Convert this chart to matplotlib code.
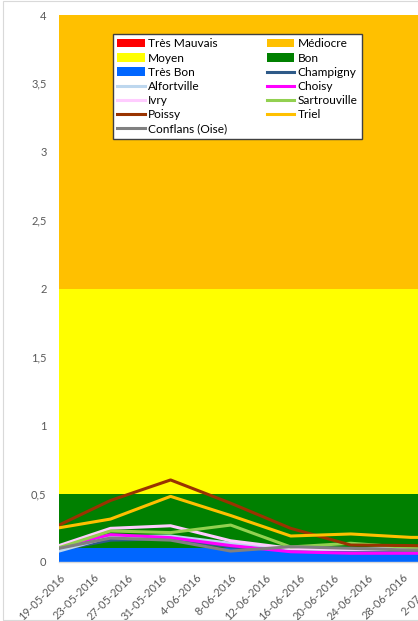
import pandas as pd
import matplotlib.pyplot as plt
from matplotlib.lines import Line2D
from matplotlib.patches import Patch, Rectangle
from matplotlib.ticker import FuncFormatter

plt.rcParams['font.family'] = ['Lato', 'DejaVu Sans']

# measurement dates (weekly)
dates = pd.to_datetime(['19-05-2016', '25-05-2016', '01-06-2016', '08-06-2016',
                        '15-06-2016', '22-06-2016', '29-06-2016', '06-07-2016'],
                       dayfirst=True)

# quality bands, stacked from the bottom
band_names = ['Très Bon', 'Bon', 'Moyen', 'Médiocre', 'Très Mauvais']
band_heights = [0.1, 0.4, 1.5, 2.0, 2.0]
band_colors = ['#0066FF', '#008000', '#FFFF00', '#FFC000', '#FF0000']

# station readings
champigny = [0.088, 0.16, 0.17, 0.11, 0.09, 0.085, 0.08, 0.08]
alfortville = [0.08, 0.185, 0.19, 0.137, 0.095, 0.09, 0.09, 0.09]
choisy = [0.115, 0.20, 0.178, 0.12, 0.075, 0.064, 0.064, 0.064]
ivry = [0.12, 0.246, 0.265, 0.155, 0.10, 0.093, 0.10, 0.10]
sartrouville = [0.105, 0.227, 0.215, 0.27, 0.11, 0.137, 0.105, 0.10]
poissy = [0.27, 0.45, 0.60, 0.43, 0.246, 0.124, 0.12, 0.11]
triel = [0.25, 0.314, 0.48, 0.34, 0.19, 0.205, 0.18, 0.18]
conflans = [0.10, 0.175, 0.16, 0.08, 0.112, 0.10, 0.087, 0.087]

stations = [('Champigny', champigny, '#2E5A88'),
            ('Alfortville', alfortville, '#BDD7EE'),
            ('Choisy', choisy, '#FF00FF'),
            ('Ivry', ivry, '#FFCCFF'),
            ('Sartrouville', sartrouville, '#92D050'),
            ('Poissy', poissy, '#993300'),
            ('Triel', triel, '#FFC000'),
            ('Conflans (Oise)', conflans, '#808080')]

W, H = 418, 621
fig = plt.figure(figsize=(W / 100, H / 100), dpi=100)

# chart border
fig.patches.append(Rectangle((3 / W, 1 / H), 1.2, 619 / H, transform=fig.transFigure,
                             fill=False, edgecolor='#D9D9D9', linewidth=0.8))

ax = fig.add_axes([59 / W, 59 / H, 412 / W, 547 / H])

ax.stackplot(dates, [[h] * len(dates) for h in band_heights],
             colors=band_colors, linewidth=0)

for name, vals, col in stations:
    ax.plot(dates, vals, color=col, linewidth=2.2, solid_joinstyle='round')

ax.set_xlim(dates[0], dates[-1])
ax.set_ylim(0, 4)

ticks = pd.date_range('2016-05-19', '2016-07-06', freq='4D')
ax.set_xticks(ticks)
ax.set_xticklabels([f"{d.day}-{d:%m-%Y}" for d in ticks], rotation=45,
                   ha='right', va='top', rotation_mode='anchor')
ax.set_yticks([i * 0.5 for i in range(9)])
ax.yaxis.set_major_formatter(FuncFormatter(lambda v, p: f"{v:g}".replace('.', ',')))
ax.tick_params(axis='both', length=0, labelsize=8, colors='#595959')
ax.tick_params(axis='y', pad=9)
ax.tick_params(axis='x', pad=7)

for s in ['top', 'right', 'left']:
    ax.spines[s].set_visible(False)
ax.spines['bottom'].set_color('#D9D9D9')
ax.spines['bottom'].set_linewidth(1)

# legend laid out row by row: left column then right column
band_handles = {n: Patch(facecolor=c, edgecolor='none') for n, c in zip(band_names, band_colors)}
line_handles = {n: Line2D([], [], color=c, linewidth=2.2) for n, v, c in stations}
handles_all = {**band_handles, **line_handles}
left_col = ['Très Mauvais', 'Moyen', 'Très Bon', 'Alfortville', 'Ivry', 'Poissy', 'Conflans (Oise)']
right_col = ['Médiocre', 'Bon', 'Champigny', 'Choisy', 'Sartrouville', 'Triel']
order = left_col + right_col
leg = ax.legend([handles_all[n] for n in order], order, ncol=2,
                loc='upper left', bbox_to_anchor=(0.131, 0.965),
                frameon=True, fancybox=False, framealpha=1, edgecolor='#404040',
                fontsize=8.6, handlelength=2.3, handleheight=0.7, handletextpad=0.3,
                labelspacing=0.27, columnspacing=3.3, borderpad=0.35, borderaxespad=0)
leg.get_frame().set_linewidth(1)

fig.savefig('out.png', dpi=100)
